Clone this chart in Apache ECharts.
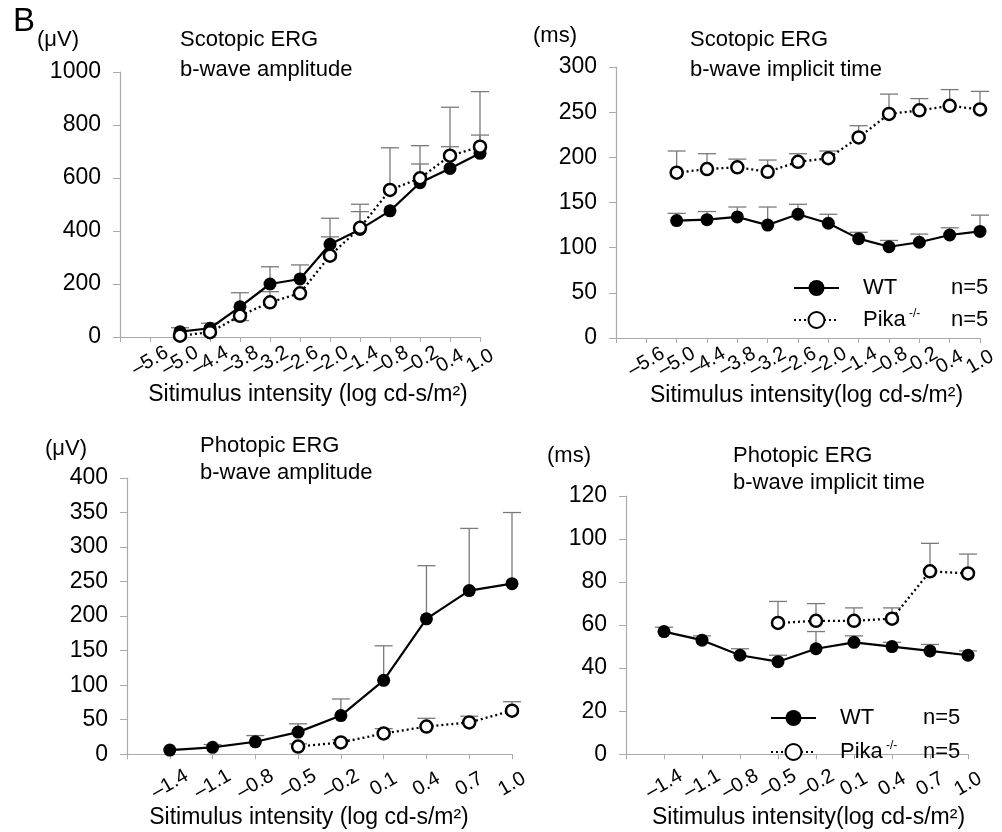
<!DOCTYPE html>
<html><head><meta charset="utf-8">
<script src="https://cdn.jsdelivr.net/npm/echarts@6/dist/echarts.min.js"></script>
<style>html,body{margin:0;padding:0;background:#fff}#c{width:1002px;height:832px}</style>
</head><body><div id="c"></div>
<script>
// ---------- data ----------
const scoCats = ['', '–5.6', '–5.0', '–4.4', '–3.8', '–3.2', '–2.6', '–2.0', '–1.4', '–0.8', '–0.2', '0.4', '1.0'];
const phoCats = ['', '–1.4', '–1.1', '–0.8', '–0.5', '–0.2', '0.1', '0.4', '0.7', '1.0'];

// Scotopic b-wave amplitude (µV)
const scoAmpWT      = [null, null, 20, 33, 114, 200, 219, 350, 406, 476, 582, 636, 693];
const scoAmpWTErr   = [null, null, 35, 52, 167, 265, 272, 448, 501, null, 653, 718, 762];
const scoAmpPika    = [null, null, 5, 18, 80, 131, 165, 307, 412, 555, 599, 684, 718];
const scoAmpPikaErr = [null, null, null, null, 62, 171, null, 378, 473, 714, 722, 867, 926];

// Scotopic b-wave implicit time (ms)
const scoTimeWT      = [null, null, 130, 131, 134, 125, 137, 127, 110, 101, 106, 114, 118];
const scoTimeWTErr   = [null, null, 138, 140, 145, 145, 148, 137, 117, 108, 115, 122, 136];
const scoTimePika    = [null, null, 183, 187, 189, 184, 195, 199, 222, 248, 252, 257, 253];
const scoTimePikaErr = [null, null, 207, 204, 198, 197, 204, 207, 235, 270, 265, 275, 273];

// Photopic b-wave amplitude (µV)
const phoAmpWT      = [null, 6, 10, 18, 32, 56, 107, 196, 237, 247];
const phoAmpWTErr   = [null, null, 14, 27, 44, 80, 157, 273, 327, 350];
const phoAmpPika    = [null, null, null, null, 11, 17, 30, 40, 46, 63];
const phoAmpPikaErr = [null, null, null, null, 15, 21, 37, 52, 55, 76];

// Photopic b-wave implicit time (ms)
const phoTimeWT      = [null, 57, 53, 46, 43, 49, 52, 50, 48, 46];
const phoTimeWTErr   = [null, 59, 55, 49, 46, 57, 55, 52, 51, 48];
const phoTimePika    = [null, null, null, null, 61, 62, 62, 63, 85, 84];
const phoTimePikaErr = [null, null, null, null, 71, 70, 68, 68, 98, 93];

// ---------- chart ----------
const FONT = '"Liberation Sans", Arial, sans-serif';
const chart = echarts.init(document.getElementById('c'), null, {renderer: 'canvas'});

function errSeries(gi, mean, top) {
  const data = [];
  mean.forEach((m, i) => { if (m != null && top[i] != null) data.push([i, m, top[i]]); });
  return {
    type: 'custom', xAxisIndex: gi, yAxisIndex: gi, z: 1, silent: true, data,
    encode: {x: 0, y: [1, 2]},
    renderItem(params, api) {
      const x = api.value(0);
      const p0 = api.coord([x, api.value(1)]);
      const p1 = api.coord([x, api.value(2)]);
      const st = {stroke: '#7a7a7a', lineWidth: 1.3};
      return {type: 'group', children: [
        {type: 'line', shape: {x1: p0[0], y1: p0[1], x2: p1[0], y2: p1[1]}, style: st},
        {type: 'line', shape: {x1: p1[0] - 9, y1: p1[1], x2: p1[0] + 9, y2: p1[1]}, style: st}
      ]};
    }
  };
}
function wtSeries(gi, data) {
  return {name: 'WT', type: 'line', xAxisIndex: gi, yAxisIndex: gi, data, z: 3,
    symbol: 'circle', symbolSize: 13, itemStyle: {color: '#000'},
    lineStyle: {color: '#000', width: 2.2}};
}
function pikaSeries(gi, data) {
  return {name: 'Pika', type: 'line', xAxisIndex: gi, yAxisIndex: gi, data, z: 3,
    symbol: 'circle', symbolSize: 12,
    itemStyle: {color: '#fff', borderColor: '#000', borderWidth: 2.5},
    lineStyle: {color: '#000', width: 2.3, type: [2, 3]}};
}
function xAx(gi, cats, margin, nameText, nameGap, namePad) {
  return {type: 'category', gridIndex: gi, data: cats, boundaryGap: false,
    axisLine: {lineStyle: {color: '#aaaaaa', width: 1.2}},
    axisTick: {show: true, length: 5, interval: 0, lineStyle: {color: '#aaaaaa'}},
    axisLabel: {interval: 0, rotate: 30, align: 'center', verticalAlign: 'middle', margin,
      fontSize: 20, color: '#000', fontFamily: FONT, hideOverlap: false},
    name: nameText, nameLocation: 'middle', nameGap,
    nameTextStyle: {fontSize: 23, color: '#000', fontFamily: FONT, lineHeight: 26, padding: namePad}};
}
function yAx(gi, max, interval) {
  return {type: 'value', gridIndex: gi, min: 0, max, interval,
    axisLine: {show: true, lineStyle: {color: '#aaaaaa', width: 1.2}},
    axisTick: {show: true, length: 7, lineStyle: {color: '#aaaaaa'}},
    splitLine: {show: false},
    axisLabel: {fontSize: 23, color: '#000', margin: 19, fontFamily: FONT, formatter: v => String(v)}};
}
function titleAt(text, left, top, lh) {
  return {text, left, top, padding: 0,
    textStyle: {fontSize: 22, fontWeight: 'normal', color: '#000', fontFamily: FONT, lineHeight: lh}};
}
function legendAt(left, top, gap, wtW, pikaW) {
  return {orient: 'vertical', left, top, itemWidth: 45, itemHeight: 20, itemGap: gap,
    data: ['WT', 'Pika'],
    formatter: n => n === 'WT' ? '{n|WT}{c|n=5}' : '{p|Pika}{s|-/-}{c|n=5}',
    textStyle: {fontSize: 22, color: '#000', fontFamily: FONT, lineHeight: 24,
      rich: {
        n: {fontSize: 22, fontFamily: FONT, width: wtW, padding: [0, 0, 0, 19]},
        p: {fontSize: 22, fontFamily: FONT, width: 46, padding: [0, 0, 0, 19]},
        s: {fontSize: 12, fontFamily: FONT, width: pikaW, verticalAlign: 'top', lineHeight: 14},
        c: {fontSize: 22, fontFamily: FONT}
      }}};
}
const xName1 = 'Sitimulus intensity (log cd-s/m²)';
const xName2 = 'Sitimulus intensity(log cd-s/m²)';

const option = {
  animation: false,
  backgroundColor: '#fff',
  grid: [
    {left: 120, top: 72, width: 360, height: 265},
    {left: 616, top: 67, width: 364, height: 271},
    {left: 127, top: 478, width: 385, height: 289},
    {left: 626, top: 496, width: 342, height: 272}
  ],
  xAxis: [
    xAx(0, scoCats, 24, xName1, 39, [0, 0, 0, 16]),
    xAx(1, scoCats, 24, xName2, 40, [0, 0, 0, 17]),
    xAx(2, phoCats, 30, xName1, 37, [0, 21, 0, 0]),
    xAx(3, phoCats, 30, xName2, 35, [0, 0, 0, 23])
  ],
  yAxis: [yAx(0, 1000, 200), yAx(1, 300, 50), yAx(2, 400, 50), yAx(3, 120, 20)],
  title: [
    titleAt('Scotopic ERG\nb-wave amplitude', 180, 25, 30),
    titleAt('Scotopic ERG\nb-wave implicit time', 690, 25, 30),
    titleAt('Photopic ERG\nb-wave amplitude', 200, 432, 27),
    titleAt('Photopic ERG\nb-wave implicit time', 733, 442, 27)
  ],
  legend: [
    legendAt(788, 271, 8, 88, 42),
    legendAt(765, 701, 10, 83, 37)
  ],
  graphic: [
    {type: 'text', left: 13, top: 5, style: {text: 'B', font: '33px ' + FONT, fill: '#000'}},
    {type: 'text', x: 37, y: 40, style: {text: '(μV)', font: '22px ' + FONT, fill: '#000', verticalAlign: 'middle'}},
    {type: 'text', x: 533, y: 36, style: {text: '(ms)', font: '22px ' + FONT, fill: '#000', verticalAlign: 'middle'}},
    {type: 'text', x: 45, y: 449, style: {text: '(μV)', font: '22px ' + FONT, fill: '#000', verticalAlign: 'middle'}},
    {type: 'text', x: 547, y: 456, style: {text: '(ms)', font: '22px ' + FONT, fill: '#000', verticalAlign: 'middle'}}
  ],
  series: [
    errSeries(0, scoAmpWT, scoAmpWTErr), errSeries(0, scoAmpPika, scoAmpPikaErr),
    wtSeries(0, scoAmpWT), pikaSeries(0, scoAmpPika),
    errSeries(1, scoTimeWT, scoTimeWTErr), errSeries(1, scoTimePika, scoTimePikaErr),
    wtSeries(1, scoTimeWT), pikaSeries(1, scoTimePika),
    errSeries(2, phoAmpWT, phoAmpWTErr), errSeries(2, phoAmpPika, phoAmpPikaErr),
    wtSeries(2, phoAmpWT), pikaSeries(2, phoAmpPika),
    errSeries(3, phoTimeWT, phoTimeWTErr), errSeries(3, phoTimePika, phoTimePikaErr),
    wtSeries(3, phoTimeWT), pikaSeries(3, phoTimePika)
  ]
};
chart.setOption(option);
</script>
</body></html>
